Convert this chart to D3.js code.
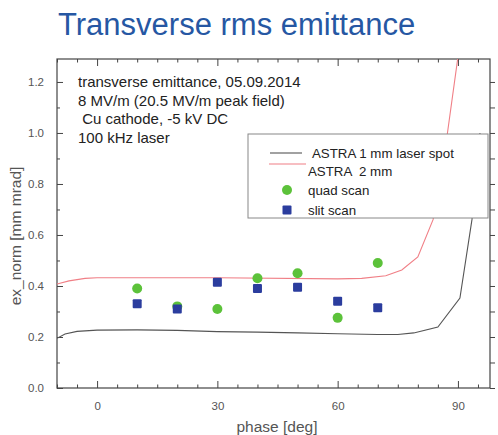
<!DOCTYPE html>
<html>
<head>
<meta charset="utf-8">
<script src="https://cdn.jsdelivr.net/npm/d3@7"></script>
<style>
  html, body { margin: 0; padding: 0; background: #fff; }
  svg { display: block; font-family: "Liberation Sans", Arial, sans-serif; }
  text { white-space: pre; }
</style>
</head>
<body>
<svg id="chart" width="498" height="435"></svg>
<script>
// Measured emittance (phase in degrees, emittance in mm mrad)
const measPhase = [10, 20, 30, 40, 50, 60, 70];
const quadScan = [0.39, 0.32, 0.31, 0.43, 0.45, 0.275, 0.49];
const slitScan = [0.33, 0.31, 0.415, 0.39, 0.395, 0.34, 0.315];

// ASTRA simulation, 1 mm laser spot
const astra1Phase = [-10, -8, -5, 0, 10, 20, 30, 40, 50, 60, 70, 75, 79, 85, 90.5, 93.5, 95.5];
const astra1Value = [0.195, 0.212, 0.222, 0.227, 0.228, 0.226, 0.221, 0.219, 0.216, 0.213, 0.21, 0.21, 0.216, 0.239, 0.353, 0.66, 1.0];

// ASTRA simulation, 2 mm laser spot
const astra2Phase = [-10, -7, -3, 0, 30, 60, 66, 72, 76, 80, 83.8, 87.3, 90.2];
const astra2Value = [0.408, 0.42, 0.43, 0.432, 0.432, 0.428, 0.43, 0.44, 0.463, 0.514, 0.66, 0.99, 1.32];

const xTickLabels = [0, 30, 60, 90];
const yTickLabels = [0.0, 0.2, 0.4, 0.6, 0.8, 1.0, 1.2];

const notes = [
  "transverse emittance, 05.09.2014",
  "8 MV/m (20.5 MV/m peak field)",
  " Cu cathode, -5 kV DC",
  "100 kHz laser"
];

const legendItems = [
  { label: " ASTRA 1 mm laser spot", kind: "line", color: "#555" },
  { label: "ASTRA  2 mm", kind: "line", color: "#f07f86" },
  { label: "quad scan", kind: "circle", color: "#5cc23a" },
  { label: "slit scan", kind: "square", color: "#2b3d9e" }
];

const svg = d3.select("#chart");
const plotL = 57, plotR = 490, plotT = 59, plotB = 388;

const x = d3.scaleLinear().domain([-10, 98]).range([plotL, plotR]);
const y = d3.scaleLinear().domain([0, 1.29]).range([plotB, plotT]);

// Title
svg.append("text")
  .attr("x", 58).attr("y", 35)
  .attr("fill", "#2657a3")
  .attr("font-size", 31)
  .text("Transverse rms emittance");

// Clip region for the curves
svg.append("clipPath").attr("id", "plotClip")
  .append("rect").attr("x", plotL).attr("y", plotT)
  .attr("width", plotR - plotL).attr("height", plotB - plotT);

const axisColor = "#444";
const minorX = d3.range(-10, 98, 5).filter(v => !xTickLabels.includes(v));
const minorY = d3.range(0.1, 1.29, 0.2);

function styleAxis(g) {
  g.select(".domain").remove();
  g.selectAll("line").attr("stroke", axisColor);
  g.selectAll("text").attr("fill", "#555").attr("font-size", 11.5)
    .attr("font-family", "'Liberation Sans', Arial, sans-serif");
}

// Bottom axis: labelled major ticks and minor ticks, pointing inward
svg.append("g").attr("transform", `translate(0,${plotB})`)
  .call(d3.axisBottom(x).tickValues(xTickLabels).tickSize(-7).tickPadding(14).tickFormat(d3.format("d")))
  .call(styleAxis);
svg.append("g").attr("transform", `translate(0,${plotB})`)
  .call(d3.axisBottom(x).tickValues(minorX).tickSize(-3.5).tickFormat(""))
  .call(styleAxis);
// Top axis
svg.append("g").attr("transform", `translate(0,${plotT})`)
  .call(d3.axisTop(x).tickValues(xTickLabels).tickSize(-7).tickFormat(""))
  .call(styleAxis);
svg.append("g").attr("transform", `translate(0,${plotT})`)
  .call(d3.axisTop(x).tickValues(minorX).tickSize(-3.5).tickFormat(""))
  .call(styleAxis);
// Left axis
svg.append("g").attr("transform", `translate(${plotL},0)`)
  .call(d3.axisLeft(y).tickValues(yTickLabels).tickSize(-6).tickPadding(13).tickFormat(d3.format(".1f")))
  .call(styleAxis);
svg.append("g").attr("transform", `translate(${plotL},0)`)
  .call(d3.axisLeft(y).tickValues(minorY).tickSize(-3).tickFormat(""))
  .call(styleAxis);
// Right axis
svg.append("g").attr("transform", `translate(${plotR},0)`)
  .call(d3.axisRight(y).tickValues(yTickLabels).tickSize(5).tickFormat(""))
  .call(styleAxis);
svg.append("g").attr("transform", `translate(${plotR},0)`)
  .call(d3.axisRight(y).tickValues(minorY).tickSize(5).tickFormat(""))
  .call(styleAxis);

// Frame
svg.append("rect")
  .attr("x", plotL).attr("y", plotT)
  .attr("width", plotR - plotL).attr("height", plotB - plotT)
  .attr("fill", "none").attr("stroke", axisColor).attr("stroke-width", 1.2);

// Axis titles
svg.append("text")
  .attr("x", 277).attr("y", 432)
  .attr("text-anchor", "middle")
  .attr("fill", "#555").attr("font-size", 15.5)
  .text("phase [deg]");
svg.append("text")
  .attr("transform", "translate(21,236) rotate(-90)")
  .attr("text-anchor", "middle")
  .attr("fill", "#555").attr("font-size", 15.5)
  .text("ex_norm [mm mrad]");

// Simulation curves
const line = d3.line().x(d => x(d[0])).y(d => y(d[1]));
const curves = svg.append("g").attr("clip-path", "url(#plotClip)");
curves.append("path")
  .datum(d3.zip(astra1Phase, astra1Value))
  .attr("d", line).attr("fill", "none")
  .attr("stroke", "#555").attr("stroke-width", 1.1);
curves.append("path")
  .datum(d3.zip(astra2Phase, astra2Value))
  .attr("d", line).attr("fill", "none")
  .attr("stroke", "#f07f86").attr("stroke-width", 1.1);

// Measurements
svg.append("g").selectAll("circle")
  .data(d3.zip(measPhase, quadScan)).join("circle")
  .attr("cx", d => x(d[0])).attr("cy", d => y(d[1]))
  .attr("r", 5).attr("fill", "#5cc23a");
svg.append("g").selectAll("rect")
  .data(d3.zip(measPhase, slitScan)).join("rect")
  .attr("x", d => x(d[0]) - 4.5).attr("y", d => y(d[1]) - 4.5)
  .attr("width", 9).attr("height", 9).attr("rx", 1)
  .attr("fill", "#2b3d9e");

// Run conditions
svg.append("g").selectAll("text")
  .data(notes).join("text")
  .attr("x", 78).attr("y", (d, i) => 87 + i * 18.7)
  .attr("fill", "#222").attr("font-size", 15)
  .text(d => d);

// Legend
const legend = svg.append("g");
legend.append("rect")
  .attr("x", 248).attr("y", 134).attr("width", 240).attr("height", 84)
  .attr("fill", "#fff").attr("stroke", "#888").attr("stroke-width", 1);
const rowY = [153, 171, 190, 210];
legendItems.forEach((item, i) => {
  const cy = rowY[i];
  if (item.kind === "line") {
    const x1 = i === 0 ? 270 : 269, x2 = i === 0 ? 302 : 306;
    const ly = i === 0 ? cy : cy - 7;
    legend.append("line").attr("x1", x1).attr("x2", x2).attr("y1", ly).attr("y2", ly)
      .attr("stroke", item.color).attr("stroke-width", 1.1);
  } else if (item.kind === "circle") {
    legend.append("circle").attr("cx", 287).attr("cy", cy).attr("r", 5).attr("fill", item.color);
  } else {
    legend.append("rect").attr("x", 282.5).attr("y", cy - 4.5).attr("width", 9).attr("height", 9)
      .attr("rx", 1).attr("fill", item.color);
  }
  legend.append("text")
    .attr("x", i === 0 ? 309 : 308).attr("y", cy + 5)
    .attr("fill", "#222").attr("font-size", 13.3)
    .text(item.label);
});
</script>
</body>
</html>
